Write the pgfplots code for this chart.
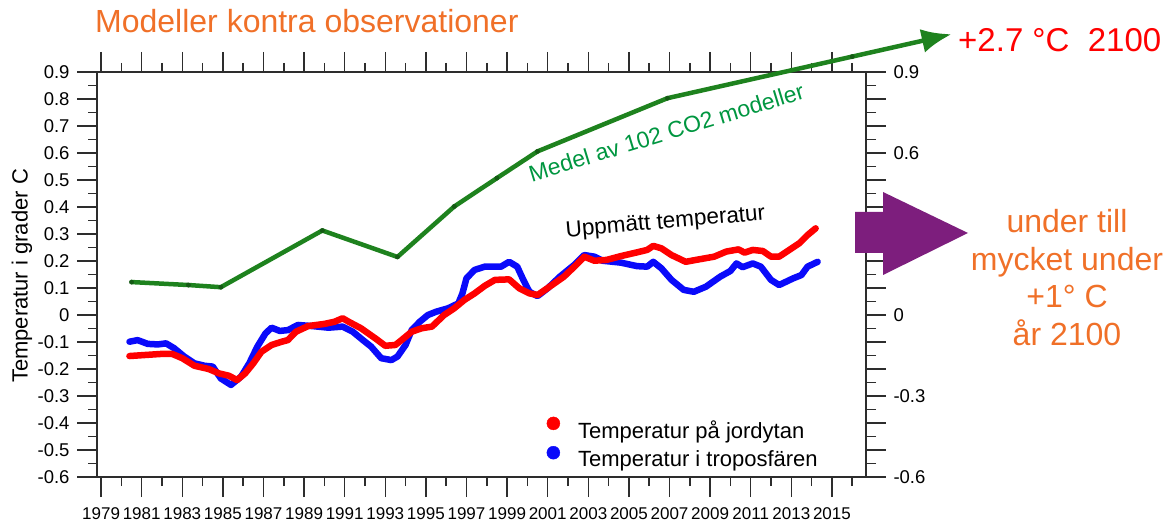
\documentclass[border=0pt]{standalone}
\usepackage{fontspec}
\setmainfont{Liberation Sans}
\usepackage{pgfplots}
\pgfplotsset{compat=1.18}
\usetikzlibrary{arrows.meta}
\definecolor{gline}{RGB}{30,130,30}
\definecolor{gmark}{RGB}{20,90,20}
\definecolor{gtext}{RGB}{0,150,64}
\definecolor{orng}{RGB}{240,112,40}
\definecolor{purp}{RGB}{125,30,125}
\definecolor{axc}{RGB}{45,45,45}
\definecolor{tred}{RGB}{255,0,0}
\definecolor{tblue}{RGB}{10,10,250}
\newcommand{\fs}[1]{\fontsize{#1bp}{#1bp}\selectfont}

\pgfplotstableread{
x y
1980.4 -0.099
1980.8 -0.093
1981.3 -0.107
1981.8 -0.109
1982.2 -0.105
1982.6 -0.123
1983.1 -0.154
1983.6 -0.179
1984.1 -0.188
1984.5 -0.191
1984.9 -0.235
1985.4 -0.259
1985.9 -0.228
1986.3 -0.179
1986.7 -0.117
1987.1 -0.068
1987.4 -0.047
1987.8 -0.059
1988.2 -0.056
1988.7 -0.037
1989.4 -0.041
1990.2 -0.047
1990.9 -0.043
1991.4 -0.062
1991.9 -0.093
1992.3 -0.117
1992.8 -0.160
1993.3 -0.167
1993.6 -0.154
1994.0 -0.111
1994.3 -0.056
1994.7 -0.025
1995.1 0.000
1995.5 0.012
1996.1 0.025
1996.6 0.043
1996.8 0.080
1997.0 0.136
1997.4 0.167
1997.9 0.179
1998.7 0.179
1999.1 0.197
1999.5 0.179
1999.8 0.130
2000.1 0.086
2000.5 0.070
2001.0 0.099
2001.6 0.142
2002.3 0.185
2002.8 0.222
2003.3 0.216
2003.7 0.201
2004.6 0.194
2005.4 0.181
2005.9 0.179
2006.2 0.197
2006.6 0.173
2007.1 0.130
2007.7 0.093
2008.2 0.086
2008.8 0.105
2009.5 0.142
2010.0 0.163
2010.3 0.191
2010.6 0.177
2011.1 0.191
2011.5 0.179
2012.0 0.130
2012.4 0.111
2013.1 0.136
2013.5 0.148
2013.8 0.179
2014.3 0.197
}\tropo

\pgfplotstableread{
x y
1980.4 -0.152
1981.2 -0.148
1982.0 -0.144
1982.5 -0.144
1983.0 -0.160
1983.6 -0.188
1984.3 -0.200
1984.8 -0.216
1985.3 -0.225
1985.7 -0.241
1986.1 -0.216
1986.5 -0.179
1986.9 -0.136
1987.4 -0.111
1987.9 -0.099
1988.2 -0.093
1988.6 -0.062
1989.2 -0.041
1990.0 -0.033
1990.5 -0.025
1990.9 -0.012
1991.2 -0.025
1991.8 -0.049
1992.5 -0.086
1993.0 -0.114
1993.5 -0.111
1993.8 -0.093
1994.3 -0.062
1994.8 -0.049
1995.3 -0.043
1995.9 0.000
1996.4 0.025
1996.9 0.056
1997.4 0.080
1997.9 0.108
1998.4 0.130
1999.1 0.132
1999.6 0.099
2000.1 0.080
2000.5 0.074
2001.1 0.105
2001.8 0.142
2002.4 0.185
2002.8 0.216
2003.3 0.201
2003.9 0.204
2004.6 0.218
2005.4 0.232
2005.9 0.241
2006.2 0.256
2006.6 0.247
2007.1 0.222
2007.8 0.197
2008.3 0.204
2009.2 0.216
2009.8 0.235
2010.4 0.243
2010.7 0.231
2011.1 0.241
2011.6 0.237
2012.0 0.216
2012.4 0.216
2012.9 0.241
2013.4 0.266
2013.8 0.296
2014.2 0.321
}\surf

\begin{document}
\begin{tikzpicture}
\path[use as bounding box] (0,0) rectangle (1176bp,524bp);

\begin{axis}[
  at={(97bp,47bp)}, anchor=south west,
  width=769bp, height=405bp, scale only axis,
  xmin=1978.8, xmax=2016.68, ymin=-0.6, ymax=0.9,
  clip=false,
  axis line style={line width=1.5bp, color=axc},
  every tick/.style={line width=1.5bp, color=axc},
  tick align=outside,
  major tick length=20bp, minor tick length=9bp,
  xtick={1979,1981,...,2015},
  xticklabels={1979,1981,1983,1985,1987,1989,1991,1993,1995,1997,1999,2001,2003,2005,2007,2009,2011,2013,2015},
  minor xtick={1980,1982,...,2016},
  xtick pos=both,
  ytick={-0.6,-0.5,-0.4,-0.3,-0.2,-0.1,0,0.1,0.2,0.3,0.4,0.5,0.6,0.7,0.8,0.9},
  yticklabels={-0.6,-0.5,-0.4,-0.3,-0.2,-0.1,0,0.1,0.2,0.3,0.4,0.5,0.6,0.7,0.8,0.9},
  minor ytick={-0.55,-0.45,-0.35,-0.25,-0.15,-0.05,0.05,0.15,0.25,0.35,0.45,0.55,0.65,0.75,0.85},
  ytick pos=left,
  xticklabel style={font=\fs{17}, text=black, yshift=-7bp},
  yticklabel style={font=\fs{18.5}, text=black, xshift=-4bp},
  legend style={at={(axis description cs:0.5845,0.085)}, anchor=west,
    draw=none, fill=none, inner sep=0pt, font=\fs{22}, row sep=6bp,
    nodes={inner sep=0pt},
    /tikz/every odd column/.style={column sep=18bp}},
  legend cell align=left,
  legend image code/.code={\fill[#1] (0bp,7bp) circle (6.5bp);},
]
\addplot[gline, line width=4.5bp, line join=round, -{Latex[length=30bp,width=24bp]}, forget plot]
  coordinates {(1980.5,0.122) (1983.3,0.111) (1984.9,0.103) (1989.9,0.313) (1993.6,0.215)
               (1996.4,0.402) (1998.5,0.507) (2000.5,0.606) (2006.9,0.803) (2016.0,0.957) (2020.9,1.04)};
\addplot[only marks, mark=*, mark size=2.2bp, color=gmark, forget plot]
  coordinates {(1980.5,0.122) (1983.3,0.111) (1984.9,0.103) (1989.9,0.313) (1993.6,0.215)
               (1996.4,0.402) (1998.5,0.507) (2000.5,0.606) (2006.9,0.803) (2016.0,0.957)};
\addplot[tblue, line width=6.5bp, line join=round, line cap=round, forget plot] table {\tropo};
\addplot[tred, line width=6.5bp, line join=round, line cap=round, forget plot] table {\surf};
\addlegendimage{tred}
\addlegendentry{Temperatur på jordytan}
\addlegendimage{tblue}
\addlegendentry{Temperatur i troposfären}
\end{axis}

\begin{axis}[
  at={(97bp,47bp)}, anchor=south west,
  width=769bp, height=405bp, scale only axis,
  xmin=1978.8, xmax=2016.68, ymin=-0.6, ymax=0.9,
  axis x line=none, axis y line*=right,
  axis line style={line width=1.5bp, color=axc},
  every tick/.style={line width=1.5bp, color=axc},
  tick align=outside,
  major tick length=20bp, minor tick length=10bp,
  ytick={-0.6,-0.5,-0.4,-0.3,-0.2,-0.1,0,0.1,0.2,0.3,0.4,0.5,0.6,0.7,0.8,0.9},
  yticklabels={-0.6,,,-0.3,,,0,,,0.3,,,0.6,,,0.9},
  minor ytick={-0.55,-0.45,-0.35,-0.25,-0.15,-0.05,0.05,0.15,0.25,0.35,0.45,0.55,0.65,0.75,0.85},
  yticklabel style={font=\fs{18.5}, text=black, xshift=4bp},
]
\end{axis}

\node[rotate=90, font=\fs{22}, inner sep=0pt] at (22bp,248bp) {Temperatur i grader C};
\node[anchor=base west, text=orng, font=\fs{32}, inner sep=0pt] at (95bp,491bp) {Modeller kontra observationer};
\node[anchor=base west, text=tred, font=\fs{33}, inner sep=0pt] at (958bp,472bp) {+2.7 °C\ \ 2100};
\node[rotate=17, anchor=base, text=gtext, font=\fs{23}, inner sep=0pt] at (668.8bp,383.8bp) {Medel av 102 CO2 modeller};
\node[rotate=5, anchor=base, text=black, font=\fs{22.5}, inner sep=0pt] at (666bp,295.5bp) {Uppmätt temperatur};
\fill[purp] (855bp,312bp) -- (883bp,312bp) -- (883bp,332bp) -- (968bp,291bp) -- (883bp,249bp) -- (883bp,271bp) -- (855bp,271bp) -- cycle;
\node[anchor=base, text=orng, font=\fs{32}, inner sep=0pt] at (1067bp,291bp) {under till};
\node[anchor=base, text=orng, font=\fs{32}, inner sep=0pt] at (1067bp,253.5bp) {mycket under};
\node[anchor=base, text=orng, font=\fs{32}, inner sep=0pt] at (1067bp,216bp) {+1° C};
\node[anchor=base, text=orng, font=\fs{32}, inner sep=0pt] at (1067bp,178bp) {år 2100};
\end{tikzpicture}
\end{document}
